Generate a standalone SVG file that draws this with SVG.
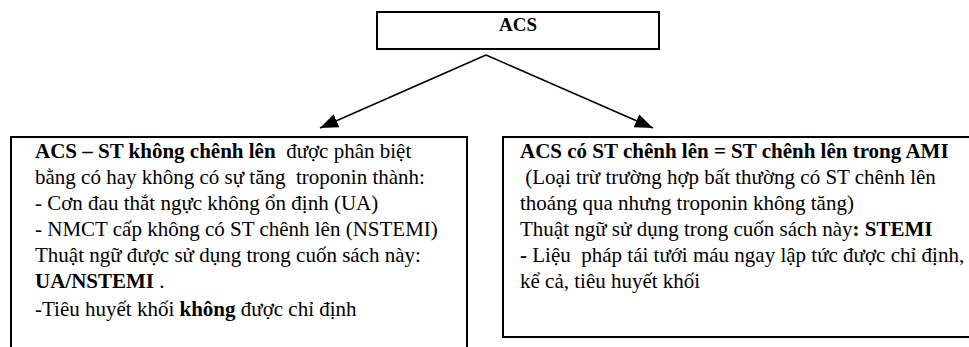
<svg xmlns="http://www.w3.org/2000/svg" width="969" height="347" viewBox="0 0 969 347">
<defs>
<style>
.box{fill:#fff;stroke:#000;stroke-width:2}
.t{font-family:"Liberation Serif","Times New Roman",serif;font-size:21px;fill:#000;white-space:pre}
.b{font-weight:bold}
.conn{stroke:#000;stroke-width:1.5;fill:none}
</style>
<marker id="ah" viewBox="0 0 18 14" refX="18" refY="7" markerWidth="18" markerHeight="14" markerUnits="userSpaceOnUse" orient="auto">
<path d="M0,0 L18,7 L0,14 z" fill="#000"/>
</marker>
</defs>
<rect width="969" height="347" fill="#fff"/>
<g id="acs">
<rect class="box" x="377" y="12" width="282" height="37"/>
<text class="t b" x="518" y="31" text-anchor="middle" style="font-size:19px">ACS</text>
</g>
<g id="nstemi">
<path class="box" d="M11,350 L11,137 L467,137 L467,350"/>
<text class="t" x="35" y="158" xml:space="preserve"><tspan class="b">ACS – ST không chênh lên</tspan>  được phân biệt</text>
<text class="t" x="35" y="184" xml:space="preserve">bằng có hay không có sự tăng  troponin thành:</text>
<text class="t" x="35" y="210">- Cơn đau thắt ngực không ổn định (UA)</text>
<text class="t" x="35" y="236">- NMCT cấp không có ST chênh lên (NSTEMI)</text>
<text class="t" x="35" y="262">Thuật ngữ được sử dụng trong cuốn sách này:</text>
<text class="t" x="35" y="288" xml:space="preserve"><tspan class="b">UA/NSTEMI</tspan> .</text>
<text class="t" x="35" y="316" xml:space="preserve">-Tiêu huyết khối <tspan class="b">không</tspan> được chỉ định</text>
</g>
<g id="stemi">
<path class="box" d="M972,137 L503,137 L503,337 L972,337"/>
<text class="t b" x="520" y="158">ACS có ST chênh lên = ST chênh lên trong AMI</text>
<text class="t" x="520" y="184" xml:space="preserve"> (Loại trừ trường hợp bất thường có ST chênh lên</text>
<text class="t" x="520" y="210">thoáng qua nhưng troponin không tăng)</text>
<text class="t" x="520" y="236" xml:space="preserve">Thuật ngữ sử dụng trong cuốn sách này<tspan class="b">: STEMI</tspan></text>
<text class="t" x="520" y="262" xml:space="preserve"><tspan class="b">-</tspan> Liệu  pháp tái tưới máu ngay lập tức được chỉ định,</text>
<text class="t" x="520" y="288">kể cả, tiêu huyết khối</text>
</g>
<g id="connectors">
<line class="conn" x1="486" y1="55" x2="320" y2="128" marker-end="url(#ah)"/>
<line class="conn" x1="486" y1="55" x2="653" y2="128" marker-end="url(#ah)"/>
</g>
</svg>
